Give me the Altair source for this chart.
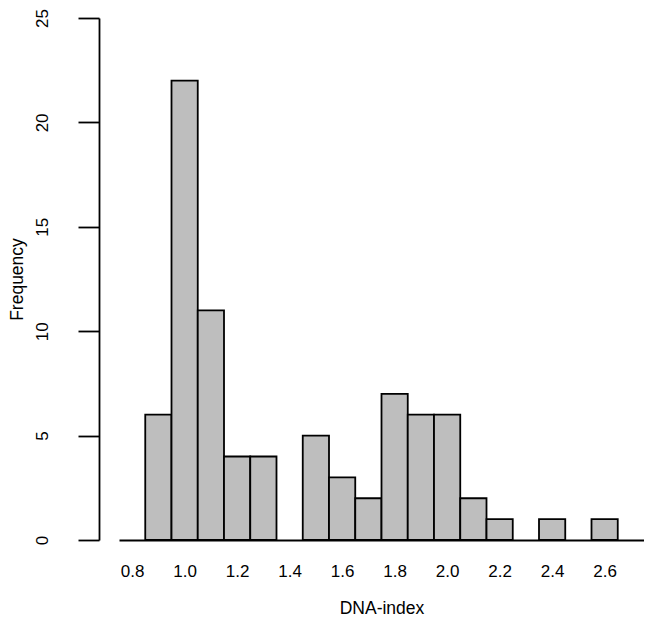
import altair as alt
import pandas as pd

# Histogram bins (width 0.1) and counts
bin_lo = [0.85, 0.95, 1.05, 1.15, 1.25, 1.45, 1.55, 1.65, 1.75, 1.85, 1.95, 2.05, 2.15, 2.35, 2.55]
bin_hi = [0.95, 1.05, 1.15, 1.25, 1.35, 1.55, 1.65, 1.75, 1.85, 1.95, 2.05, 2.15, 2.25, 2.45, 2.65]
counts = [6, 22, 11, 4, 4, 5, 3, 2, 7, 6, 6, 2, 1, 1, 1]
x_ticks = [0.8, 1.0, 1.2, 1.4, 1.6, 1.8, 2.0, 2.2, 2.4, 2.6]
y_ticks = [0, 5, 10, 15, 20, 25]

df = pd.DataFrame({"lo": bin_lo, "hi": bin_hi, "count": counts})

FONT = "Liberation Sans"

chart = alt.Chart(df).mark_rect(
    fill="#bebebe", stroke="black", strokeWidth=1.8
).encode(
    x=alt.X("lo:Q",
            scale=alt.Scale(domain=[0.75, 2.75], nice=False, zero=False),
            axis=alt.Axis(values=x_ticks, format=".1f", ticks=False, tickSize=0,
                          domain=True, domainColor="black", domainWidth=1.8,
                          labelPadding=23, labelFontSize=17, labelFont=FONT,
                          labelColor="black", title="DNA-index",
                          titleFont=FONT, titleFontSize=17.5, titleFontWeight="normal",
                          titleColor="black", titlePadding=20, grid=False)),
    x2="hi:Q",
    y=alt.Y("count:Q",
            scale=alt.Scale(domain=[0, 25], nice=False),
            axis=alt.Axis(values=y_ticks, offset=20, tickSize=21, tickWidth=1.8,
                          tickColor="black", domainColor="black", domainWidth=1.8,
                          labelAngle=270, labelAlign="center", labelBaseline="bottom",
                          labelPadding=27, labelFontSize=17, labelFont=FONT,
                          labelColor="black", title="Frequency", titleFont=FONT,
                          titleFontSize=17.5, titleFontWeight="normal", titleColor="black",
                          titlePadding=7, grid=False)),
    y2=alt.datum(0),
).properties(
    width=525, height=522,
    autosize=alt.AutoSizeParams(type="none"),
    padding={"left": 111, "top": 10, "right": 0, "bottom": 80},
).configure(background="white", view=alt.ViewConfig(stroke=None))

chart.save("out.html", embed_options={"renderer": "svg", "actions": False})
